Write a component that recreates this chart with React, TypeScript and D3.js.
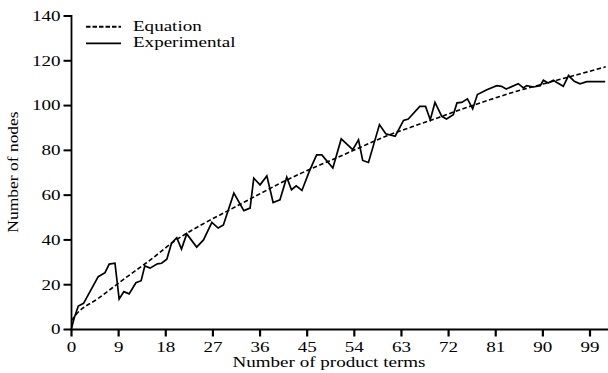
import React from "react";
import * as d3 from "d3";

const xTicks = [0, 9, 18, 27, 36, 45, 54, 63, 72, 81, 90, 99];
const yTicks = [0, 20, 40, 60, 80, 100, 120, 140];

const eqX = [0, 1, 5, 10, 15, 20, 25, 30, 35, 40, 45, 50, 55, 60, 65, 70, 75, 80, 85, 90, 95, 100, 102];
const eqY = [4, 7, 13.7, 22.5, 31, 40, 47, 53.2, 59.4, 65.5, 71, 76, 81.2, 86.3, 90.5, 94.6, 98.8, 102.7, 106.4, 109.6, 112.8, 116, 117.3];

const expX = [0, 0.5, 1.3, 2.3, 5.1, 6.4, 7.2, 8.3, 9.1, 10, 11, 12.3, 13.3, 14, 15, 16.4, 17.2, 18.2, 19.1, 20.1, 21, 22, 23.9, 25.2, 26.8, 28, 29, 31, 31.9, 32.9, 34.1, 34.8, 36, 37.3, 38.5, 39.8, 41.1, 42, 42.9, 44, 45.4, 46.8, 47.8, 49.9, 51.5, 53.7, 54.8, 55.6, 56.7, 58.8, 60, 61.8, 63.4, 64.3, 66.5, 67.6, 68.5, 69.4, 70.7, 71.6, 72.9, 73.6, 74.5, 75.6, 76.6, 77.5, 79.3, 81.2, 82.1, 83, 85.3, 86.3, 86.9, 88.2, 89.5, 90.1, 91, 92, 92.6, 93.9, 94.9, 96, 97.1, 98.4, 101.9];
const expY = [0.5, 5, 10.5, 11.7, 23.6, 25.4, 29.2, 29.6, 13.6, 16.9, 15.9, 20.9, 21.8, 28.4, 27.4, 29.3, 29.6, 31.4, 38.5, 41, 35.9, 42.7, 36.8, 40, 47.8, 45.3, 46.7, 60.9, 57.2, 53.1, 54.2, 67.6, 64.6, 68.6, 56.7, 57.9, 68, 62.4, 64.2, 62.1, 70.6, 78, 78, 72.1, 85.1, 80.3, 84.7, 75.5, 74.6, 91.5, 87.4, 86.3, 93.4, 94, 99.6, 99.6, 93.7, 101.4, 95.2, 94, 95.9, 101.2, 101.4, 103, 98.5, 104.9, 107.1, 108.9, 108.6, 107.4, 109.8, 107.9, 108.9, 108.3, 108.9, 111.3, 110.1, 111.3, 110.4, 108.6, 113.4, 110.8, 109.7, 110.7, 110.7];

const legendLabels = ["Equation", "Experimental"];
const xTitle = "Number of product terms";
const yTitle = "Number of nodes";

const W = 608;
const H = 373;
const X0 = 71.5;
const Y0 = 329.5;
const YTOP = 16;
const SX = 1.36;
const FONT = "Liberation Serif, DejaVu Serif, serif";

export default function App() {
  const x = d3.scaleLinear().domain([0, 99]).range([X0, 590]);
  const y = d3.scaleLinear().domain([0, 140]).range([Y0, YTOP]);

  const eqLine = d3
    .line<number>()
    .x((_, i) => x(eqX[i]))
    .y((d) => y(d))
    .curve(d3.curveMonotoneX)(eqY) as string;

  const expLine = d3
    .line<number>()
    .x((_, i) => x(expX[i]))
    .y((d) => y(d))(expY) as string;

  const txt = { fontFamily: FONT, fontSize: "14px" } as React.CSSProperties;

  return (
    <svg
      width={W}
      height={H}
      style={{ position: "absolute", left: 0, top: 0, background: "#fff" }}
    >
      <path d={eqLine} fill="none" stroke="#000" strokeWidth={1.6} strokeDasharray="4.5,2.5" />
      <path d={expLine} fill="none" stroke="#000" strokeWidth={1.7} strokeLinejoin="miter" />

      <line x1={X0} x2={X0} y1={y(140) - 1} y2={Y0 + 1} stroke="#000" strokeWidth={1.8} />
      <line x1={X0 - 1} x2={W} y1={Y0} y2={Y0} stroke="#000" strokeWidth={1.8} />

      {yTicks.map((t) => (
        <g key={"y" + t}>
          <line x1={X0 - 8} x2={X0} y1={y(t)} y2={y(t)} stroke="#000" strokeWidth={2} />
          <text
            transform={`translate(${X0 - 11},${y(t) + 4.8}) scale(${SX},1)`}
            textAnchor="end"
            style={txt}
            fill="#000"
          >
            {t}
          </text>
        </g>
      ))}

      {xTicks.map((t) => (
        <g key={"x" + t}>
          <line x1={x(t)} x2={x(t)} y1={Y0} y2={Y0 + 7} stroke="#000" strokeWidth={2.2} />
          <text
            transform={`translate(${x(t)},${Y0 + 22}) scale(${SX},1)`}
            textAnchor="middle"
            style={txt}
            fill="#000"
          >
            {t}
          </text>
        </g>
      ))}

      <text
        transform={`translate(329,${H - 6}) scale(${SX},1)`}
        textAnchor="middle"
        style={txt}
        fill="#000"
      >
        {xTitle}
      </text>
      <text
        transform={`translate(18,172) rotate(-90) scale(1.25,1)`}
        textAnchor="middle"
        style={txt}
        fill="#000"
      >
        {yTitle}
      </text>

      <line x1={86} x2={121} y1={26.7} y2={26.7} stroke="#000" strokeWidth={2} strokeDasharray="4.5,2" />
      <line x1={86} x2={121} y1={43.3} y2={43.3} stroke="#000" strokeWidth={1.8} />
      <text transform={`translate(133,30.7) scale(${SX},1)`} style={txt} fill="#000">
        {legendLabels[0]}
      </text>
      <text transform={`translate(133,47.3) scale(${SX},1)`} style={txt} fill="#000">
        {legendLabels[1]}
      </text>
    </svg>
  );
}
